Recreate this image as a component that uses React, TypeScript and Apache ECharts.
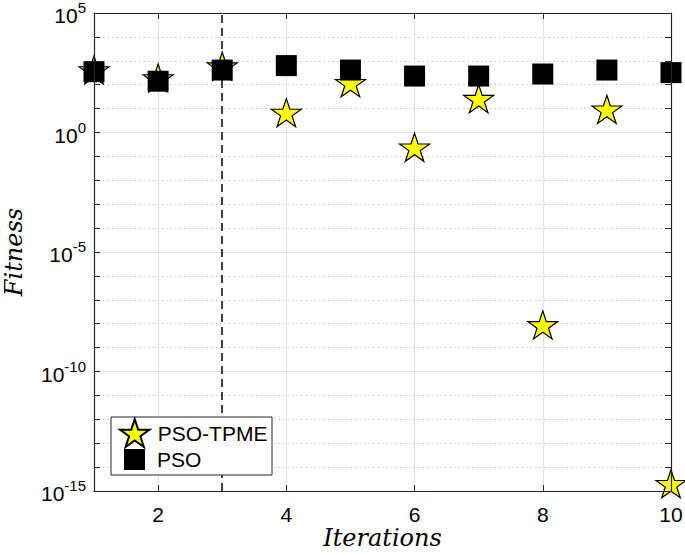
import React, { useEffect, useRef } from "react";
import * as echarts from "echarts";

const iterations = [1, 2, 3, 4, 5, 6, 7, 8, 9, 10];
const psoTpme = [4.1e2, 1.9e2, 5.9e2, 6.8e0, 1.2e2, 2.4e-1, 2.6e1, 8.9e-9, 9.3e0, 2.0e-15];
const pso = [3.5e2, 1.4e2, 4.1e2, 6.3e2, 4.1e2, 2.3e2, 2.3e2, 2.8e2, 4.1e2, 3.2e2];
const xTickValues = [2, 4, 6, 8, 10];
const xGridValues = [2, 4, 6, 8];
const yMajorExponents = [-15, -10, -5, 0, 5];
const yMajorGridExponents = [-10, -5, 0];
const yMinorExponents = [-14, -13, -12, -11, -9, -8, -7, -6, -4, -3, -2, -1, 1, 2, 3, 4];
const dividerIteration = 3;

const STAR =
  "path://M50,0 L61.2,34.5 L97.6,34.5 L68.2,55.9 L79.4,90.5 L50,69.1 L20.6,90.5 L31.8,55.9 L2.4,34.5 L38.8,34.5 Z";

const AXIS_COLOR = "#262626";
const SANS = "'Liberation Sans', Arial, Helvetica, sans-serif";
const SERIF = "'DejaVu Serif', serif";

export default function App() {
  const ref = useRef<HTMLDivElement>(null);
  useEffect(() => {
    if (!ref.current) return;
    const chart = echarts.init(ref.current, undefined, { renderer: "svg" });

    const yRich = {
      b: { fontSize: 21, fontFamily: SANS, color: "#000", verticalAlign: "bottom", lineHeight: 26 },
      s: { fontSize: 15, fontFamily: SANS, color: "#000", verticalAlign: "top", lineHeight: 26 },
    };

    const yBase = (pos: "left" | "right", showLabel: boolean) => ({
      type: "value",
      position: pos,
      min: -15,
      max: 5,
      interval: 1,
      z: 10,
      axisLine: { show: true, onZero: false, lineStyle: { color: AXIS_COLOR, width: 1.2 } },
      axisTick: { show: true, inside: true, length: 6, lineStyle: { color: AXIS_COLOR, width: 1 } },
      axisLabel: {
        show: showLabel,
        margin: 8,
        formatter: (v: number) => (yMajorExponents.includes(v) ? `{b|10}{s|${v}}` : ""),
        rich: yRich,
      },
      splitLine: { show: false },
    });

    const xBase = (pos: "bottom" | "top", showLabel: boolean) => ({
      type: "value",
      position: pos,
      min: 1,
      max: 10,
      interval: 1,
      z: 10,
      axisLine: { show: true, onZero: false, lineStyle: { color: AXIS_COLOR, width: 1.2 } },
      axisTick: {
        show: true,
        inside: true,
        length: 6,
        customValues: xTickValues,
        lineStyle: { color: AXIS_COLOR, width: 1 },
      },
      axisLabel: {
        show: showLabel,
        margin: 13,
        customValues: xTickValues,
        fontSize: 21,
        lineHeight: 21,
        fontFamily: SANS,
        color: "#000",
        formatter: (v: number) => (xTickValues.includes(v) ? String(v) : ""),
      },
      splitLine: { show: false },
    });

    const gridLines: any[] = [
      ...yMinorExponents.map((e) => ({
        yAxis: e,
        lineStyle: { color: "#c4c4c4", type: [1.5, 3], width: 1 },
      })),
      ...yMajorGridExponents.map((e) => ({
        yAxis: e,
        lineStyle: { color: "#e2e2e2", type: "solid", width: 1 },
      })),
      ...xGridValues.map((x) => ({
        xAxis: x,
        lineStyle: { color: "#e2e2e2", type: "solid", width: 1 },
      })),
      {
        xAxis: dividerIteration,
        lineStyle: { color: "#000", type: [8, 5], width: 1.5 },
      },
    ];

    chart.setOption({
      animation: false,
      backgroundColor: "#fff",
      grid: {
        left: 94,
        top: 13,
        right: 14,
        bottom: 63,
        containLabel: false,
        outerBoundsMode: "none",
      },
      xAxis: [
        {
          ...xBase("bottom", true),
          name: "Iterations",
          nameLocation: "middle",
          nameGap: 35,
          nameMoveOverlap: false,
          nameTextStyle: {
            fontFamily: SERIF,
            fontStyle: "italic",
            fontSize: 24,
            lineHeight: 24,
            color: "#000",
          },
        },
        xBase("top", false),
      ],
      yAxis: [
        {
          ...yBase("left", true),
          name: "Fitness",
          nameLocation: "middle",
          nameGap: 68,
          nameMoveOverlap: false,
          nameTextStyle: {
            fontFamily: SERIF,
            fontStyle: "italic",
            fontSize: 24,
            lineHeight: 24,
            color: "#000",
          },
        },
        yBase("right", false),
      ],
      legend: [
        {
          data: [{ name: "PSO-TPME", icon: STAR }],
          left: 119,
          top: 418,
          padding: 0,
          itemWidth: 30,
          itemHeight: 28,
          z: 20,
          selectedMode: false,
          itemStyle: { opacity: 1 },
          textStyle: { fontSize: 21, fontFamily: SANS, color: "#000", padding: [0, 0, 0, 3] },
        },
        {
          data: [{ name: "PSO", icon: "rect" }],
          left: 124,
          top: 449,
          padding: 0,
          itemWidth: 21,
          itemHeight: 21,
          z: 20,
          selectedMode: false,
          itemStyle: { opacity: 1 },
          textStyle: { fontSize: 21, fontFamily: SANS, color: "#000", padding: [0, 0, 0, 7] },
        },
      ],
      graphic: [
        {
          type: "rect",
          z: 15,
          silent: true,
          shape: { x: 111, y: 417, width: 161, height: 58 },
          style: { fill: "#fff", stroke: AXIS_COLOR, lineWidth: 1 },
        },
      ],
      series: [
        {
          name: "grid",
          type: "line",
          data: [],
          z: 1,
          silent: true,
          markLine: {
            z: 1,
            silent: true,
            symbol: ["none", "none"],
            label: { show: false },
            emphasis: { disabled: true },
            data: gridLines,
          },
        },
        {
          name: "PSO-TPME",
          type: "scatter",
          z: 3,
          symbol: STAR,
          symbolSize: [30, 28],
          itemStyle: { color: "#ffff00", borderColor: "#000", borderWidth: 1.2, opacity: 1 },
          data: iterations.map((x, i) => [x, Math.log10(psoTpme[i])]),
        },
        {
          name: "PSO",
          type: "scatter",
          z: 4,
          symbol: "rect",
          symbolSize: 21,
          itemStyle: { color: "#000", opacity: 1 },
          data: iterations.map((x, i) => [x, Math.log10(pso[i])]),
        },
      ],
    });
    return () => chart.dispose();
  }, []);
  return <div ref={ref} style={{ width: 685, height: 554, position: "absolute", left: 0, top: 0 }} />;
}
